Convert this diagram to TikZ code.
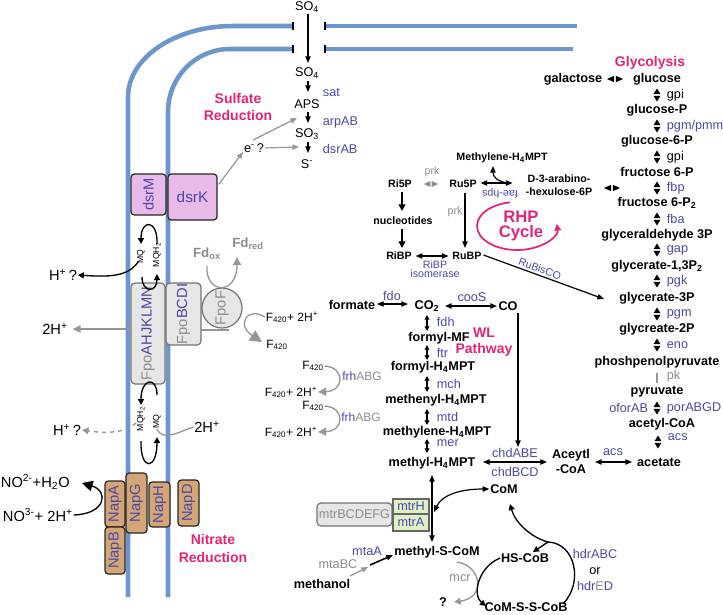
\documentclass[tikz,border=0pt]{standalone}
\usepackage{fontspec}
\setmainfont{Liberation Sans}
\usetikzlibrary{arrows.meta,calc}
\newcommand{\fsz}[1]{\fontsize{#1}{#1}\selectfont}
\definecolor{mem}{RGB}{108,150,205}
\definecolor{enzb}{RGB}{72,72,168}
\definecolor{mag}{RGB}{226,36,120}
\definecolor{gtx}{RGB}{140,140,140}
\definecolor{garr}{RGB}{150,150,150}
\definecolor{pinkbox}{RGB}{232,186,232}
\definecolor{tanbox}{RGB}{212,166,118}
\definecolor{greybox}{RGB}{230,230,230}
\definecolor{greenbox}{RGB}{224,240,198}
\tikzset{
 met/.style={font=\fsz{9.5}\bfseries, inner sep=0.5pt},
 smet/.style={font=\fsz{8}\bfseries, inner sep=0.5pt},
 enz/.style={text=enzb, font=\fsz{9.5}, inner sep=0.5pt},
 senz/.style={text=enzb, font=\fsz{8}, inner sep=0.5pt},
 genz/.style={text=gtx, font=\fsz{9.5}, inner sep=0.5pt},
 chem/.style={font=\fsz{9.5}, inner sep=0.5pt},
 fchem/.style={font=\fsz{9}, inner sep=0.5pt},
 ion/.style={font=\fsz{11}, inner sep=0.5pt},
 mqlab/.style={font=\fsz{6.5}, inner sep=0pt, rotate=90},
 ttl/.style={text=mag, font=\fontsize{10.5}{12.8}\selectfont\bfseries, inner sep=0.5pt, align=center},
 pbox/.style={draw=black!85, line width=0.9pt, rounded corners=2.5pt, inner sep=0pt, font=\fsz{11}, text=enzb},
 gbox/.style={draw=black!55, fill=greybox, line width=0.9pt, rounded corners=3pt, inner sep=0pt, font=\fsz{11}, text=gtx},
 arr/.style={-{Triangle[length=5pt,width=4pt]}, line width=0.9pt},
 barr/.style={-{Triangle[length=5pt,width=5pt]}, line width=1.6pt},
 darr/.style={{Triangle[length=5pt,width=4pt]}-{Triangle[length=5pt,width=4pt]}, line width=0.9pt},
 sarr/.style={{Triangle[length=3.5pt,width=3.5pt]}-{Triangle[length=3.5pt,width=3.5pt]}, line width=1.1pt},
 carr/.style={-{Triangle[length=4.5pt,width=4.5pt]}, line width=1pt},
 garrow/.style={-{Triangle[length=5pt,width=4pt]}, line width=0.9pt, draw=garr},
 vd/.pic={\fill (-3.5,-0.8)--(0,-6.5)--(3.5,-0.8)--cycle; \fill (-3.5,0.8)--(0,6.5)--(3.5,0.8)--cycle;},
 hd/.pic={\fill (-0.8,-3.2)--(-8,0)--(-0.8,3.2)--cycle; \fill (0.8,-3.2)--(8,0)--(0.8,3.2)--cycle;},
}
\begin{document}
\begin{tikzpicture}[x=0.75pt,y=-0.75pt]
\useasboundingbox (0,0) rectangle (723,614);
% ---------- membranes
\draw[mem, line width=3.4pt] (128,597) -- (128,97) arc[start angle=180,end angle=270,x radius=105,y radius=71] -- (293,26);
\draw[mem, line width=3.4pt] (168,597) -- (168,112) arc[start angle=180,end angle=270,x radius=62,y radius=63] -- (293,49);
\draw[mem, line width=3.4pt] (325,26) -- (577,26);
\draw[mem, line width=3.4pt] (325,49) -- (573,49);
\draw[line width=0.8pt] (293,22)--(293,30) (293,45)--(293,53) (325,22)--(325,30) (325,45)--(325,53);
% ---------- sulfate reduction
\node[chem] (so4a) at (307,7) {SO\textsubscript{4}};
\node[chem] (so4b) at (307,73) {SO\textsubscript{4}};
\node[chem] (aps) at (307,104) {APS};
\node[chem] (so3) at (307,134) {SO\textsubscript{3}};
\node[chem] (sm) at (307,164) {S\textsuperscript{-}};
\draw[arr] (308,14) -- (308,63);
\draw[arr] (308,81) -- (308,92);
\draw[arr] (308,112) -- (308,123);
\draw[arr] (308,142) -- (308,153);
\node[enz, anchor=west] (sat) at (322,92) {sat};
\node[enz, anchor=west] (arpab) at (322,122) {arpAB};
\node[enz, anchor=west] (dsrab) at (322,149) {dsrAB};
\node[ttl, font=\fontsize{10.5}{12.75}\selectfont\bfseries] (sulf) at (238,107) {Sulfate\\Reduction};
\node[chem] (eq) at (254,148) {e\textsuperscript{-}\,?};
\coordinate (apsso3) at (297,118);
\coordinate (so3sm) at (299,147);
\draw[garrow] (253,140) -- (apsso3);
\draw[garrow] (eq.east) -- (so3sm);
% ---------- membrane proteins
\node[pbox, fill=pinkbox, rotate=90, minimum width=30.75pt, minimum height=26.25pt] (dsrM) at (148.5,194.5) {dsrM};
\node[pbox, fill=pinkbox, minimum width=36.75pt, minimum height=34.5pt, font=\fsz{11.5}] (dsrK) at (192.5,197) {dsrK};
\draw[garrow] ($(dsrK.north east)+(1,11)$) -- (243,152);
% upper MQ cycle
\draw[carr] (157,244) .. controls (158,219) and (141,219) .. (141,244);
\node[mqlab] (mq1) at (141,257) {MQ};
\node[mqlab] (mqh1) at (157,255) {MQH\textsubscript{2}};
\node[ion] (hq1) at (63,275) {H\textsuperscript{+}\,?};
\draw[carr] (138,262) .. controls (128,277) and (108,277) .. (hq1.east);
% Fpo complex
\node[gbox, rotate=90, minimum width=75.75pt, minimum height=25.5pt] (fpoA) at (148,333.5) {Fpo\textcolor{enzb}{AHJKLMN}};
\node[gbox, rotate=90, minimum width=46.5pt, minimum height=26.25pt] (fpoB) at (183.5,314) {Fpo\textcolor{enzb}{BCDI}};
\draw[garr, line width=1pt] (201,330) -- (229,330);
\node[gbox, circle, minimum size=30pt, rotate=90] (fpoF) at (222,308) {FpoF};
\draw[carr] (142,277) .. controls (142,293) and (157,293) .. (157,274);
\node[ion] (h2a) at (55,329) {2H\textsuperscript{+}};
\draw[-{Triangle[length=6pt,width=5.5pt]}, line width=1pt, draw=garr, fill=garr] (131,329) -- ([xshift=3pt]h2a.east);
% Fd
\node[font=\fsz{10}\bfseries, text=gtx, inner sep=0.5pt] (fdox) at (207,254) {Fd\textsubscript{ox}};
\node[font=\fsz{10}\bfseries, text=gtx, inner sep=0.5pt] (fdred) at (248,244) {Fd\textsubscript{red}};
\draw[draw=garr, line width=1pt, -{Triangle[length=6pt,width=6pt]}] (207,266) .. controls (205,294) and (237,296) .. (237,257);
% F420
\node[fchem] (f420a) at (292,317) {F\textsubscript{420}+ 2H\textsuperscript{+}};
\node[fchem] (f420b) at (277,345) {F\textsubscript{420}};
\draw[draw=garr, line width=1pt, -{Triangle[length=9pt,width=9pt]}] (f420a.west) .. controls (247,306) and (236,325) .. (262,342);
\node[fchem] (f420c) at (313,366) {F\textsubscript{420}};
\node[fchem] (f420d) at (291,392) {F\textsubscript{420}+ 2H\textsuperscript{+}};
\node[text=enzb, font=\fsz{9}, inner sep=0.5pt] (frh1) at (362,376) {frh\textcolor{gtx}{ABG}};
\draw[draw=garr, line width=1pt, -{Triangle[length=6pt,width=6pt]}] (f420c.east) .. controls (345,367) and (345,391) .. (f420d.east);
\node[fchem] (f420e) at (313,406) {F\textsubscript{420}};
\node[fchem] (f420f) at (291,432) {F\textsubscript{420}+ 2H\textsuperscript{+}};
\node[text=enzb, font=\fsz{9}, inner sep=0.5pt] (frh2) at (361,417) {frh\textcolor{gtx}{ABG}};
\draw[draw=garr, line width=1pt, -{Triangle[length=6pt,width=6pt]}] (f420e.east) .. controls (345,407) and (345,431) .. (f420f.east);
% lower MQ cycle
\draw[carr] (157,395) .. controls (157,376) and (141,378) .. (141,405);
\node[mqlab] (mqh2) at (141,419) {MQH\textsubscript{2}};
\node[mqlab] (mq2) at (157,422) {MQ};
\node[ion] (hp2) at (207,427) {2H\textsuperscript{+}};
\draw[draw=garr, line width=1pt] (157,429) .. controls (163,442) and (178,432) .. (hp2.west);
\node[ion] (hq2) at (67,430) {H\textsuperscript{+}\,?};
\draw[draw=garr, dashed, line width=1pt, -{Triangle[length=5pt,width=5pt]}] (136,423) .. controls (126,432) and (110,434) .. (hq2.east);
\draw[carr] (141,441) .. controls (140,471) and (157,471) .. (157,437);
% Nap
\node[pbox, fill=tanbox, rotate=90, minimum width=34.5pt, minimum height=15pt] (napA) at (115,504) {NapA};
\node[pbox, fill=tanbox, rotate=90, minimum width=35.25pt, minimum height=15pt] (napB) at (115,550.5) {NapB};
\node[pbox, fill=tanbox, rotate=90, minimum width=45pt, minimum height=15.75pt] (napG) at (136.5,503) {NapG};
\node[pbox, fill=tanbox, rotate=90, minimum width=33.75pt, minimum height=15.75pt] (napH) at (159.5,504.5) {NapH};
\node[pbox, fill=tanbox, rotate=90, minimum width=34.5pt, minimum height=15.75pt] (napD) at (188.5,503) {NapD};
\node[ion, anchor=west] (no2) at (0,482) {NO\textsuperscript{2-}+H\textsubscript{2}O};
\node[ion, anchor=west] (no3) at (2,515) {NO\textsuperscript{3-}+ 2H\textsuperscript{+}};
\coordinate (no2tip) at (82,483);
\draw[line width=1pt, -{Triangle[length=8pt,width=8pt]}] (no3.east) .. controls (106,514) and (109,491) .. (no2tip);
\node[ttl, font=\fontsize{10.5}{13.5}\selectfont\bfseries] (nitr) at (213,548) {Nitrate\\Reduction};
% ---------- RHP
\node[smet] (meth) at (502,158) {Methylene-H\textsubscript{4}MPT};
\node[smet] (ri5p) at (400,184) {Ri5P};
\node[smet] (ru5p) at (463,184) {Ru5P};
\node[smet, align=center, font=\fontsize{8}{9.75}\selectfont\bfseries] (hex) at (559,185.5) {D-3-arabino-\\-hexulose-6P};
\pic[gtx, scale=0.9] at (431,184) {hd};
\node[text=gtx, font=\fsz{8}, inner sep=0.5pt] (prk1) at (432,172) {prk};
\draw[darr] ($(ru5p.east)+(3,-1)$) -- ($(ru5p.east)+(35,-1)$);
\draw[arr] (507,183) .. controls (497,181) and (493,177) .. (493,166);
\node[senz, rotate=180] (fae) at (500,193) {fae-hps};
\node[smet] (nuc) at (403,221) {nucleotides};
\node[smet] (ribp) at (399,256) {RiBP};
\node[smet] (rubp) at (467,256) {RuBP};
\draw[barr] (402,192) -- (402,211);
\draw[barr] (402,229) -- (402,248);
\draw[darr] ($(ribp.east)+(3,0)$) -- ($(rubp.west)+(-3,0)$);
\node[senz] (iso1) at (435,264.5) {RiBP};
\node[senz] (iso2) at (435,273.5) {isomerase};
\draw[arr] (465,193) -- (465,248);
\node[text=gtx, font=\fsz{8}, inner sep=0.5pt] (prk2) at (455,212) {prk};
\draw[mag, line width=1.3pt, -{Triangle[length=5pt,width=5pt]}] (517,226) ++(260:40 and 24) arc[start angle=260, end angle=-5, x radius=40, y radius=24];
\node[ttl, font=\fontsize{12.5}{11.25}\selectfont\bfseries] (rhp) at (521,226) {RHP\\Cycle};
% ---------- glycolysis
\node[ttl] (glyc) at (650,63) {Glycolysis};
\node[met] (gal) at (573,79) {galactose};
\node[met] (glc) at (657,79) {glucose};
\pic at (615,79) {hd};
\pic at (657,95) {vd};
\node[chem, anchor=west] (gpi1) at (666,95) {gpi};
\node[met] (glcp) at (657,110) {glucose-P};
\pic at (657,126) {vd};
\node[enz, anchor=west] (pgm1) at (666,126) {pgm/pmm};
\node[met] (g6p) at (657,141) {glucose-6-P};
\pic at (657,157) {vd};
\node[chem, anchor=west] (gpi2) at (666,157) {gpi};
\node[met] (f6p) at (657,172) {fructose 6-P};
\pic at (657,188) {vd};
\node[enz, anchor=west] (fbp) at (666,188) {fbp};
\pic at (612,188) {hd};
\node[met] (f6p2) at (657,203) {fructose 6-P\textsubscript{2}};
\pic at (657,219) {vd};
\node[enz, anchor=west] (fba) at (666,219) {fba};
\node[met] (gap3p) at (657,235) {glyceraldehyde 3P};
\pic at (657,250) {vd};
\node[enz, anchor=west] (gapn) at (666,250) {gap};
\node[met] (g13p) at (657,266) {glycerate-1,3P\textsubscript{2}};
\pic at (657,281) {vd};
\node[enz, anchor=west] (pgk) at (666,281) {pgk};
\node[met] (g3p) at (657,298) {glycerate-3P};
\pic at (657,314) {vd};
\node[enz, anchor=west] (pgm2) at (666,314) {pgm};
\node[met] (g2p) at (657,329) {glycreate-2P};
\pic at (657,345) {vd};
\node[enz, anchor=west] (eno) at (666,345) {eno};
\node[met] (pep) at (657,362) {phoshpenolpyruvate};
\draw[garr, line width=1pt] (657,373) -- (657,383);
\node[genz, anchor=west] (pk) at (666,376) {pk};
\node[met] (pyr) at (657,392) {pyruvate};
\pic at (657,408) {vd};
\node[enz, anchor=east] (ofor) at (649,408) {oforAB};
\node[enz, anchor=west] (por) at (666,408) {porABGD};
\node[met] (acoa) at (662,424) {acetyl-CoA};
\pic at (658,442) {vd};
\node[enz, anchor=west] (acs1) at (667,437) {acs};
\node[met] (ace) at (659,462) {acetate};
% RuBisCO
\draw[arr] ($(rubp.east)+(1,-1)$) -- node[senz, sloped, above=1pt, pos=0.45] (rubisco) {RuBisCO} (604,299);
% ---------- WL pathway
\node[met] (form) at (352,305) {formate};
\node[met] (co2) at (427,306) {CO\textsubscript{2}};
\node[met] (co) at (508,306) {CO};
\draw[darr] (377,304) -- (408,304);
\node[enz] (fdo) at (392,296) {fdo};
\draw[darr] (445,306) -- (497,306);
\node[enz] (coos) at (472,297) {cooS};
\node[met] (fmf) at (439,338) {formyl-MF};
\node[ttl, font=\fontsize{10.5}{12}\selectfont\bfseries] (wl) at (484,342) {WL\\Pathway};
\node[met] (fh4) at (433,367) {formyl-H\textsubscript{4}MPT};
\node[met] (meh4) at (436,400) {methenyl-H\textsubscript{4}MPT};
\node[met] (mlh4) at (437,432) {methylene-H\textsubscript{4}MPT};
\node[met] (mh4) at (432,463) {methyl-H\textsubscript{4}MPT};
\draw[sarr] (427,315) -- (427,331);
\node[enz, anchor=west] (fdh) at (436,322) {fdh};
\draw[sarr] (427,345) -- (427,360);
\node[enz, anchor=west] (ftr) at (436,353) {ftr};
\draw[sarr] (427,376) -- (427,392);
\node[enz, anchor=west] (mch) at (436,384) {mch};
\draw[sarr] (427,409) -- (427,425);
\node[enz, anchor=west] (mtd) at (436,417) {mtd};
\draw[sarr] (427,439) -- (427,453);
\node[enz, anchor=west] (mer) at (436,443) {mer};
\draw[arr] (518,313) -- (518,447);
\draw[darr] (483,462) -- (547,462);
\node[enz] (chd1) at (515,453) {chdABE};
\node[enz] (chd2) at (515,472) {chdBCD};
\node[met, align=center, font=\fontsize{9.5}{11.25}\selectfont\bfseries] (acy) at (571,461.5) {Aceytl\\-CoA};
\draw[darr] (595,462) -- (632,462);
\node[enz] (acs2) at (613,452) {acs};
% mtr and methyl-S-CoM
\node[gbox, font=\fsz{9.5}, minimum width=56.25pt, minimum height=17.25pt] (mtrB) at (354.5,514.5) {mtrBCDEFG};
\node[draw=black!60, fill=greenbox, line width=0.9pt, inner sep=0pt, font=\fsz{9.5}, text=enzb, minimum width=27pt, minimum height=11.25pt] (mtrH) at (411,506.5) {mtrH};
\node[draw=black!60, fill=greenbox, line width=0.9pt, inner sep=0pt, font=\fsz{9.5}, text=enzb, minimum width=27pt, minimum height=12.75pt] (mtrA) at (411,522.5) {mtrA};
\node[met] (msc) at (437,552) {methyl-S-CoM};
\draw[darr] (432,475) -- (432,542);
\node[met] (com) at (504,489) {CoM};
\draw[darr] (434,512) .. controls (442,495) and (460,489) .. (com.west);
\node[enz] (mtaA) at (367,551) {mtaA};
\draw[arr, line width=1.2pt] (370,565) -- (393,555);
\node[genz] (mtaBC) at (338,564) {mtaBC};
\draw[garrow] (350,576) -- (368,567);
\node[met] (meoh) at (322,584) {methanol};
\node[genz] (mcr) at (460,578) {mcr};
\node[met] (qm) at (443,602) {?};
\draw[draw=garr, line width=1pt, -{Triangle[length=5pt,width=5pt]}] (457,562) .. controls (482,566) and (486,598) .. (454,602);
\node[met] (hscob) at (525,558) {HS-CoB};
\node[met] (cssc) at (526,607) {CoM-S-S-CoB};
\draw[carr] (hscob.west) .. controls (478,567) and (472,595) .. (486,606);
\draw[line width=1pt] (563,604) .. controls (584,582) and (575,543) .. (548,542);
\draw[carr] (548,542) -- (533,552);
\draw[carr] (548,542) .. controls (530,537) and (515,522) .. (510,504);
\node[enz] (hdr1) at (595,554) {hdrABC};
\node[chem] (hor) at (595,571) {or};
\node[enz] (hdr2) at (595,586) {hdr\textcolor{gtx}{E}D};
\end{tikzpicture}
\end{document}
